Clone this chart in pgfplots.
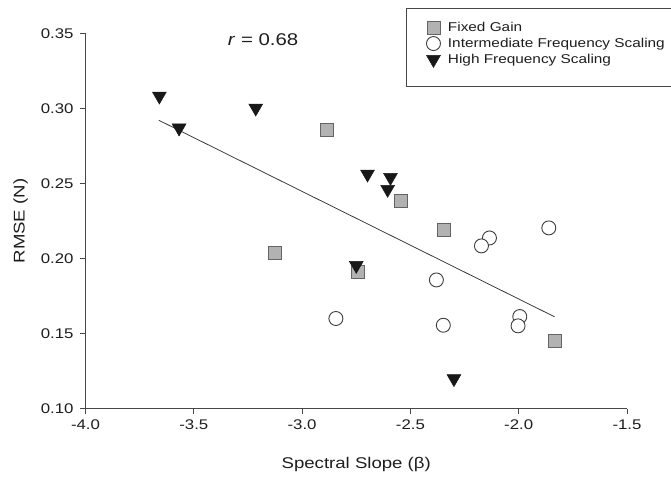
\documentclass[border=0pt]{standalone}
\usepackage{pgfplots}
\pgfplotsset{compat=1.18}
\usepackage{fontspec}
\setmainfont{Liberation Sans}[FakeStretch=1.2]

\definecolor{sqfill}{RGB}{178,178,178}
\definecolor{sqdraw}{RGB}{100,100,100}
\definecolor{circdraw}{RGB}{60,60,60}
\definecolor{trifill}{RGB}{24,24,24}
\definecolor{axisgray}{RGB}{70,70,70}
\definecolor{txt}{RGB}{30,30,30}

% Fixed Gain
\pgfplotstableread{
x y
-2.883 0.2855
-2.543 0.2384
-2.347 0.2193
-3.124 0.2037
-2.742 0.1911
-1.832 0.1449
}\fixedgain

% Intermediate Frequency Scaling
\pgfplotstableread{
x y
-2.135 0.2137
-2.172 0.2084
-1.861 0.2204
-2.380 0.1857
-2.348 0.1555
-1.995 0.1613
-2.003 0.1551
-2.844 0.1600
}\intermediate

% High Frequency Scaling
\pgfplotstableread{
x y
-3.659 0.3083
-3.568 0.2870
-3.214 0.3003
-2.698 0.2563
-2.592 0.2541
-2.605 0.2461
-2.750 0.1954
-2.299 0.1199
}\highfreq

\begin{document}
\begin{tikzpicture}
\useasboundingbox (0,0) rectangle (671bp,478bp);
\begin{axis}[
  at={(85.5bp,69.5bp)}, anchor=south west,
  scale only axis, width=541.5bp, height=375bp,
  xmin=-4, xmax=-1.5, ymin=0.10, ymax=0.35,
  axis lines*=left,
  axis line style={axisgray, line width=0.8bp, -},
  xtick={-4,-3.5,-3,-2.5,-2,-1.5},
  xticklabels={-4.0,-3.5,-3.0,-2.5,-2.0,-1.5},
  ytick={0.10,0.15,0.20,0.25,0.30,0.35},
  yticklabels={0.10,0.15,0.20,0.25,0.30,0.35},
  tick align=outside, major tick length=5bp,
  tick style={axisgray, line width=0.8bp},
  tick label style={font=\fontsize{14bp}{16bp}\selectfont, text=txt},
  xticklabel style={yshift=-2.5bp},
  yticklabel style={xshift=-3.5bp},
  xlabel={Spectral Slope (β)},
  ylabel={RMSE (N)},
  label style={font=\fontsize{15.5bp}{18bp}\selectfont, text=txt},
  xlabel style={at={(axis description cs:0.5,-0.15)}, anchor=center},
  ylabel style={at={(axis description cs:-0.12,0.5)}, anchor=center, rotate=0},
  legend style={at={(axis description cs:0.592,1.067)}, anchor=north west,
    draw=axisgray, line width=0.8bp, font=\fontsize{12.8bp}{15bp}\selectfont,
    text=txt, inner xsep=18.5bp, inner ysep=12bp, row sep=2bp,
    column sep=5.5bp, nodes={inner ysep=1.5bp}},
  legend cell align=left,
  clip=false,
]
\addplot[only marks, mark=square*, mark size=6.5bp,
  mark options={fill=sqfill, draw=sqdraw, line width=0.9bp}]
  table[x=x, y=y] {\fixedgain};
\addlegendentry{Fixed Gain}
\addplot[only marks, mark=*, mark size=7bp,
  mark options={fill=white, draw=circdraw, line width=0.9bp}]
  table[x=x, y=y] {\intermediate};
\addlegendentry{Intermediate Frequency Scaling}
\addplot[only marks, mark=triangle*, mark size=8bp,
  mark options={fill=trifill, draw=trifill, line width=0.5bp, rotate=180}]
  table[x=x, y=y] {\highfreq};
\addlegendentry{High Frequency Scaling}
\addlegendimage{empty legend}
\addlegendentry{}
% least-squares fit over all groups
\addplot[draw=circdraw, line width=0.8bp, forget plot]
  coordinates {(-3.662,0.2922) (-1.834,0.1611)};
\node[font=\fontsize{17bp}{20bp}\selectfont, text=txt]
  at (axis cs:-3.18,0.3462) {\textit{r} = 0.68};
\end{axis}
\end{tikzpicture}
\end{document}
